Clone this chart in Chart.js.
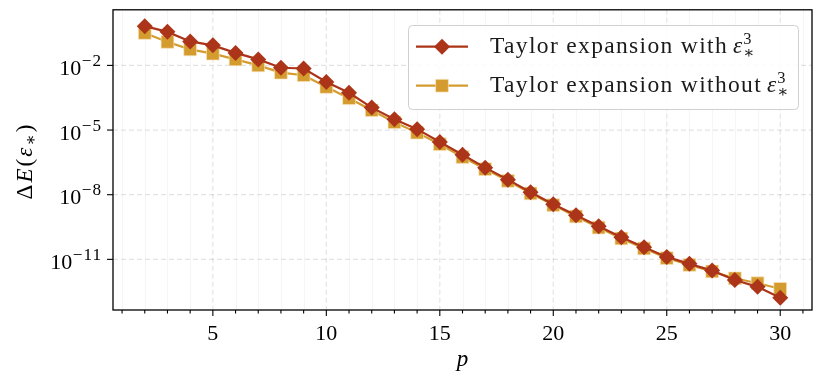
<!DOCTYPE html>
<html><head><meta charset="utf-8">
<script src="https://cdn.jsdelivr.net/npm/chart.js@4/dist/chart.umd.min.js"></script>
<style>html,body{margin:0;padding:0;background:#fff}#wrap{width:823px;height:386px}</style>
</head><body><div id="wrap"><canvas id="c" width="823" height="386"></canvas></div>
<script>
const pValues = [2,3,4,5,6,7,8,9,10,11,12,13,14,15,16,17,18,19,20,21,22,23,24,25,26,27,28,29,30];
const withEps3 = [6.6e-1,3.6e-1,1.3e-1,8.5e-2,3.8e-2,1.9e-2,7.8e-3,7.2e-3,1.7e-3,5.4e-4,1.1e-4,3.2e-5,1.1e-5,2.8e-6,7.1e-7,1.8e-7,5.0e-8,1.3e-8,3.6e-9,1.1e-9,3.4e-10,1.05e-10,3.6e-11,1.3e-11,6.2e-12,3.0e-12,1.1e-12,5.3e-13,1.65e-13];
const withoutEps3 = [3.2e-1,1.23e-1,5.5e-2,3.5e-2,1.9e-2,1.0e-2,4.6e-3,3.5e-3,1.0e-3,3.0e-4,8.3e-5,2.3e-5,7.6e-6,2.2e-6,5.6e-7,1.55e-7,4.4e-8,1.15e-8,3.3e-9,9.8e-10,3.0e-10,9.3e-11,3.2e-11,1.15e-11,5.5e-12,2.75e-12,1.32e-12,7.8e-13,4.3e-13];
const xTickLabels = [5,10,15,20,25,30];
const xMinorTicks = [1,2,3,4,5,6,7,8,9,10,11,12,13,14,15,16,17,18,19,20,21,22,23,24,25,26,27,28,29,30,31];
const yTickExponents = [-2,-5,-8,-11];
const legendLabels = ['Taylor expansion with', 'Taylor expansion without'];

const RED = '#ab3419';
const GOLD = '#d49c2f';
const FAM = '"Liberation Serif", "DejaVu Serif", serif';
const BASE = 22;

function setFont(ctx, size, style) {
  ctx.font = (style ? style + ' ' : '') + size + 'px ' + FAM;
}

const decor = {
  id: 'decor',
  beforeDatasetsDraw(chart) {
    const {ctx, chartArea: a, scales: {x, y}} = chart;
    ctx.save();
    ctx.beginPath(); ctx.rect(a.left, a.top, a.right - a.left, a.bottom - a.top); ctx.clip();
    ctx.strokeStyle = 'rgba(0,0,0,0.05)'; ctx.lineWidth = 0.8; ctx.setLineDash([]);
    xMinorTicks.forEach(v => { if (xTickLabels.includes(v)) return; const px = Math.round(x.getPixelForValue(v)) + 0.5; ctx.beginPath(); ctx.moveTo(px, a.top); ctx.lineTo(px, a.bottom); ctx.stroke(); });
    ctx.strokeStyle = 'rgba(0,0,0,0.11)'; ctx.lineWidth = 1.2; ctx.setLineDash([5, 3]);
    xTickLabels.forEach(v => { const px = x.getPixelForValue(v); ctx.beginPath(); ctx.moveTo(px, a.top); ctx.lineTo(px, a.bottom); ctx.stroke(); });
    yTickExponents.forEach(e => { const py = y.getPixelForValue(Math.pow(10, e)); ctx.beginPath(); ctx.moveTo(a.left, py); ctx.lineTo(a.right, py); ctx.stroke(); });
    ctx.restore();
  },
  afterDatasetsDraw(chart) {
    const {ctx, chartArea: a, scales: {x, y}} = chart;
    ctx.save();
    ctx.setLineDash([]);
    ctx.strokeStyle = '#000'; ctx.lineWidth = 1.3;
    ctx.strokeRect(a.left, a.top, a.right - a.left, a.bottom - a.top);
    ctx.lineWidth = 1.1;
    xMinorTicks.forEach(v => {
      const px = x.getPixelForValue(v);
      const len = xTickLabels.includes(v) ? 6 : 3.5;
      ctx.beginPath(); ctx.moveTo(px, a.bottom); ctx.lineTo(px, a.bottom + len); ctx.stroke();
    });
    ctx.fillStyle = '#000';
    setFont(ctx, BASE); ctx.textAlign = 'center'; ctx.textBaseline = 'alphabetic';
    xTickLabels.forEach(v => { ctx.fillText(String(v), x.getPixelForValue(v), a.bottom + 30); });
    yTickExponents.forEach(e => {
      const py = y.getPixelForValue(Math.pow(10, e));
      ctx.beginPath(); ctx.moveTo(a.left, py); ctx.lineTo(a.left - 6, py); ctx.stroke();
      const expTxt = '\u2212' + Math.abs(e);
      ctx.textAlign = 'right';
      setFont(ctx, BASE * 0.78);
      ctx.letterSpacing = '1px';
      const ew = ctx.measureText(expTxt).width;
      ctx.fillText(expTxt, 102, py + 0.5);
      ctx.letterSpacing = '0px';
      setFont(ctx, BASE);
      ctx.fillText('10', 102 - ew - 0.5, py + 9.5);
    });
    ctx.textAlign = 'center';
    setFont(ctx, BASE + 1, 'italic');
    ctx.fillText('p', (a.left + a.right) / 2, 366);
    // y title rotated
    ctx.save();
    ctx.translate(32, 161); ctx.rotate(-Math.PI / 2);
    const parts = [['\u0394', '', 1, 0], ['E', 'italic', 1, 0], ['(', '', 1, 0], ['\u03b5', 'italic', 1, 0], ['\u2217', '', 0.72, 4], [')', '', 1, 0]];
    const ysz = BASE + 1;
    let tw = 0;
    parts.forEach(pt => { setFont(ctx, ysz * pt[2], pt[1]); tw += ctx.measureText(pt[0]).width; });
    const sp = (77 - tw) / parts.length;
    let cx = -77 / 2; ctx.textAlign = 'left';
    parts.forEach(pt => { setFont(ctx, ysz * pt[2], pt[1]); ctx.fillText(pt[0], cx, pt[3]); cx += ctx.measureText(pt[0]).width + sp; });
    ctx.restore();
    // legend
    const lx0 = 408, ly0 = 25, lw = 390, lh = 84, r = 4;
    ctx.fillStyle = 'rgba(255,255,255,0.85)'; ctx.strokeStyle = '#d0d0d0'; ctx.lineWidth = 1;
    ctx.beginPath(); ctx.roundRect(lx0 + 0.5, ly0 + 0.5, lw, lh, r); ctx.fill(); ctx.stroke();
    const ds = chart.data.datasets;
    const rows = [46.7, 85.7];
    const LS = 23.5;
    setFont(ctx, LS);
    const w0 = ctx.measureText(legendLabels[0]).width;
    const spacing = (238 - w0) / legendLabels[0].length;
    ds.forEach((d, i) => {
      const cy = rows[i];
      ctx.strokeStyle = d.borderColor; ctx.lineWidth = 2.2;
      ctx.beginPath(); ctx.moveTo(416, cy); ctx.lineTo(468, cy); ctx.stroke();
      ctx.fillStyle = d.pointBackgroundColor; ctx.strokeStyle = d.pointBorderColor; ctx.lineWidth = d.pointBorderWidth || 1;
      ctx.beginPath();
      if (d.pointStyle === 'rect') { const s = d.pointRadius * Math.SQRT1_2; ctx.rect(442 - s, cy - s, 2 * s, 2 * s); }
      else { const s = d.pointRadius; ctx.moveTo(442, cy - s); ctx.lineTo(442 + s, cy); ctx.lineTo(442, cy + s); ctx.lineTo(442 - s, cy); ctx.closePath(); }
      ctx.fill(); if (d.pointBorderWidth) ctx.stroke();
      ctx.fillStyle = '#1a1a1a'; ctx.textAlign = 'left';
      setFont(ctx, LS);
      ctx.letterSpacing = spacing + 'px';
      const bl = cy + 6;
      ctx.fillText(legendLabels[i], 490, bl);
      let tx = 490 + ctx.measureText(legendLabels[i]).width + 5;
      ctx.letterSpacing = '0px';
      setFont(ctx, LS, 'italic');
      ctx.fillText('\u03b5', tx, bl);
      tx += ctx.measureText('\u03b5').width + 1;
      setFont(ctx, LS * 0.7);
      ctx.fillText('3', tx, bl - 9);
      ctx.fillText('\u2217', tx, bl + 5);
    });
    ctx.restore();
  }
};

const pts = arr => pValues.map((p, i) => ({x: p, y: arr[i]}));

new Chart(document.getElementById('c'), {
  type: 'line',
  data: {
    datasets: [
      { label: 'Taylor expansion with \u03b5\u00b3\u2217', data: pts(withEps3), borderColor: RED, backgroundColor: RED,
        borderWidth: 2.2, pointStyle: 'rectRot', pointRadius: 8, pointHoverRadius: 8,
        pointBackgroundColor: RED, pointBorderColor: RED, pointBorderWidth: 0, tension: 0 },
      { label: 'Taylor expansion without \u03b5\u00b3\u2217', data: pts(withoutEps3), borderColor: GOLD, backgroundColor: GOLD,
        borderWidth: 2.2, pointStyle: 'rect', pointRadius: 9, pointHoverRadius: 9,
        pointBackgroundColor: GOLD, pointBorderColor: 'rgba(250,230,190,0.8)', pointBorderWidth: 0.8, tension: 0 }
    ]
  },
  options: {
    responsive: false, animation: false, devicePixelRatio: 1,
    layout: { padding: { top: 8, right: 11, left: 0, bottom: 0 } },
    plugins: { legend: { display: false }, tooltip: { enabled: false } },
    scales: {
      x: { type: 'linear', min: 0.6, max: 31.4,
        grid: { display: false }, border: { display: false },
        ticks: { display: false },
        afterBuildTicks: s => { s.ticks = xMinorTicks.map(v => ({value: v})); },
        afterFit: s => { s.height = 76; } },
      y: { type: 'logarithmic', min: Math.pow(10, -13.35), max: Math.pow(10, 0.58),
        grid: { display: false }, border: { display: false },
        ticks: { display: false },
        afterBuildTicks: s => { s.ticks = yTickExponents.map(e => ({value: Math.pow(10, e)})); },
        afterFit: s => { s.width = 113; } }
    }
  },
  plugins: [decor]
});
</script></body></html>
